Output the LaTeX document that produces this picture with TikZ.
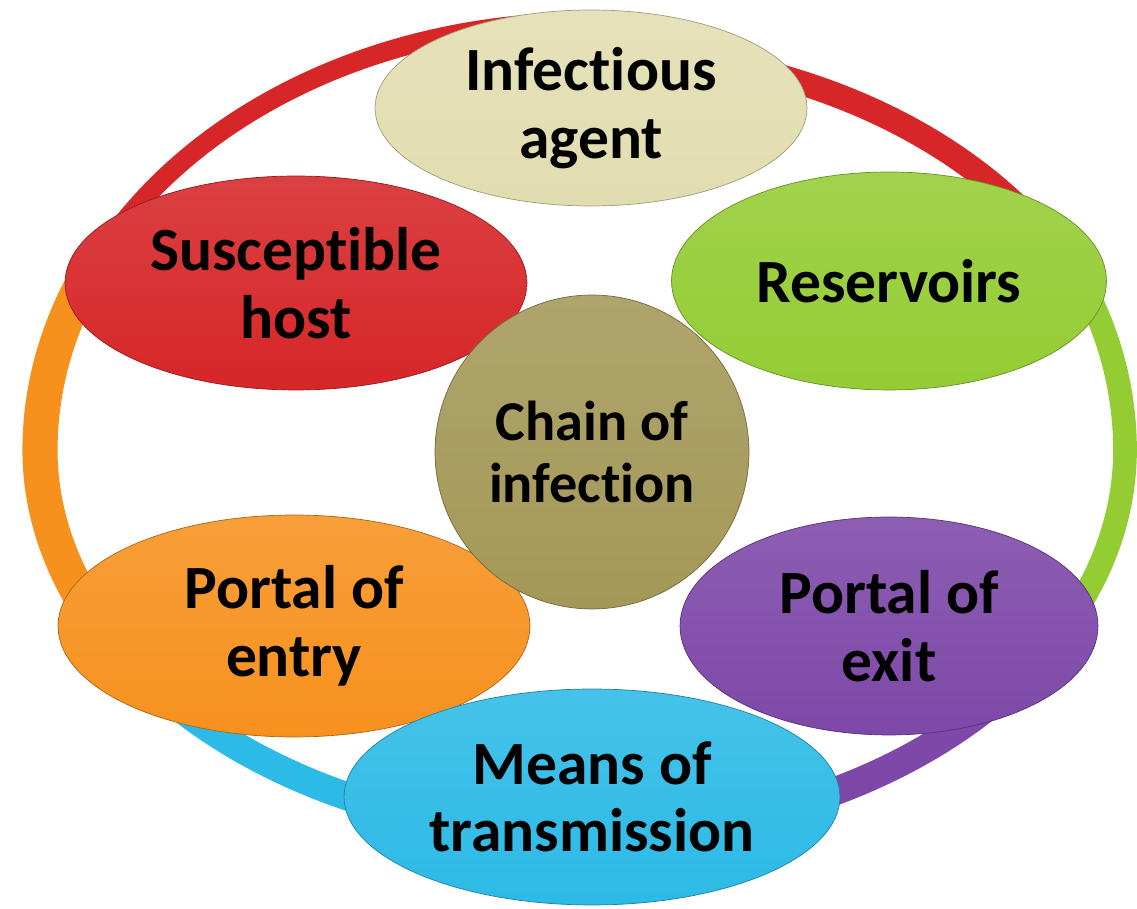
\documentclass[tikz,border=0pt]{standalone}
\usepackage{fontspec}
\setmainfont{Carlito}[RawFeature=-liga]
\usepackage{tikz}
\usetikzlibrary{shapes.geometric}
\definecolor{agentbeige}{RGB}{226,221,176}
\definecolor{reservoirgreen}{RGB}{148,204,52}
\definecolor{exitpurple}{RGB}{125,72,168}
\definecolor{meanscyan}{RGB}{44,186,230}
\definecolor{entryorange}{RGB}{247,145,30}
\definecolor{hostred}{RGB}{214,38,40}
\definecolor{chainolive}{RGB}{164,152,88}
\tikzset{
  bubble/.style={
    ellipse,draw=#1!70!black,top color=#1!88!white,bottom color=#1,
    inner xsep=0pt,inner ysep=-6pt,align=center,text=black,
    font=\bfseries\fontsize{35}{38.5}\selectfont
  },
  ringarc/.style={draw=#1,line cap=butt}
}

\begin{document}
\begin{tikzpicture}[x=0.02cm,y=0.02cm]
  \useasboundingbox (0,0) rectangle (1137,909);
  \coordinate (ring) at (585,459);
  % ring pieces first, the bubbles hide their ends
  \draw[ringarc=hostred,line width=11pt] (ring) ++(152:545 and 428)
    arc[start angle=152,end angle=88,x radius=545,y radius=428];
  \draw[ringarc=hostred,line width=14pt] (ring) ++(92:545 and 400)
    arc[start angle=92,end angle=30,x radius=545,y radius=400];
  \draw[ringarc=reservoirgreen,line width=13.5pt] (ring) ++(32:540 and 428)
    arc[start angle=32,end angle=0,x radius=540,y radius=428]
    arc[start angle=0,end angle=-25,x radius=540,y radius=385];
  \draw[ringarc=exitpurple,line width=16pt] (ring) ++(-28:540 and 385)
    arc[start angle=-28,end angle=-80,x radius=540,y radius=385];
  \draw[ringarc=meanscyan,line width=16pt] (ring) ++(-100:545 and 385)
    arc[start angle=-100,end angle=-150,x radius=545,y radius=385];
  \draw[ringarc=entryorange,line width=20pt] (ring) ++(-148:545 and 385)
    arc[start angle=-148,end angle=-180,x radius=545,y radius=385]
    arc[start angle=180,end angle=155,x radius=545,y radius=428];
  % the six links and the centre
  \node[bubble=agentbeige,minimum width=8.64cm,minimum height=3.92cm] (agent) at (591,801) {Infectious\\agent};
  \node[bubble=reservoirgreen,minimum width=8.7cm,minimum height=4.36cm] (reservoirs) at (889,628) {Reservoirs};
  \node[bubble=exitpurple,minimum width=8.36cm,minimum height=4.36cm] (exit) at (889,283) {Portal of\\exit};
  \node[bubble=entryorange,minimum width=9.44cm,minimum height=4.44cm] (entry) at (294,283) {Portal of\\entry};
  \node[bubble=hostred,minimum width=9.24cm,minimum height=4.28cm] (host) at (296,626) {Susceptible\\host};
  \node[bubble=meanscyan,minimum width=9.92cm,minimum height=4.32cm] (means) at (592,112) {Means of\\transmission};
  \node[bubble=chainolive,circle,minimum size=6.28cm,font=\bfseries\fontsize{32}{35}\selectfont] (chain) at (592,457) {Chain of\\infection};
\end{tikzpicture}
\end{document}
